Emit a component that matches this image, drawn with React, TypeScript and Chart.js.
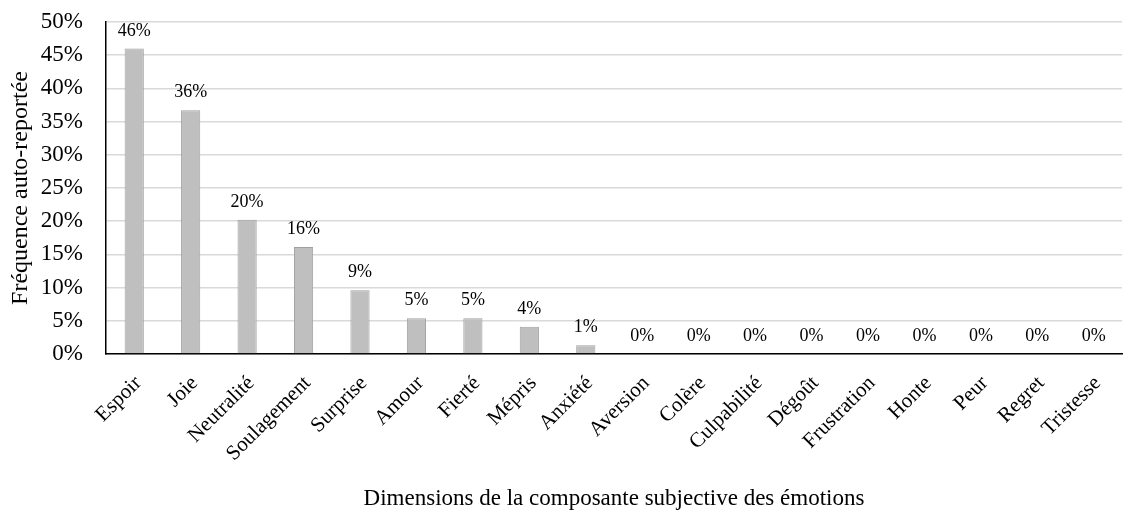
import React, { useEffect, useRef } from "react";
import { Chart, registerables } from "chart.js";

Chart.register(...registerables);

const categories = [
  "Espoir", "Joie", "Neutralité", "Soulagement", "Surprise", "Amour", "Fierté", "Mépris", "Anxiété",
  "Aversion", "Colère", "Culpabilité", "Dégoût", "Frustration", "Honte", "Peur", "Regret", "Tristesse",
];
const values = [46.0, 36.7, 20.2, 16.1, 9.6, 5.4, 5.4, 4.1, 1.3, 0, 0, 0, 0, 0, 0, 0, 0, 0];
const valueLabels = ["46%", "36%", "20%", "16%", "9%", "5%", "5%", "4%", "1%", "0%", "0%", "0%", "0%", "0%", "0%", "0%", "0%", "0%"];
const yTicks = [0, 5, 10, 15, 20, 25, 30, 35, 40, 45, 50];

const FONT = "'Liberation Serif', 'Times New Roman', serif";

const labelPlugin = {
  id: "valueLabels",
  afterDatasetsDraw(chart: any) {
    const ctx = chart.ctx;
    const meta = chart.getDatasetMeta(0);
    ctx.save();
    ctx.font = `18px ${FONT}`;
    ctx.fillStyle = "#000";
    ctx.textAlign = "center";
    ctx.textBaseline = "alphabetic";
    meta.data.forEach((bar: any, i: number) => {
      ctx.fillText(valueLabels[i], bar.x, bar.y - 13);
    });
    ctx.restore();
  },
};

export default function App() {
  const ref = useRef<HTMLCanvasElement>(null);
  useEffect(() => {
    if (!ref.current) return;
    const chart = new Chart(ref.current, {
      type: "bar",
      data: {
        labels: categories,
        datasets: [
          {
            data: values,
            backgroundColor: "#bfbfbf",
            borderColor: "#a0a0a0",
            borderWidth: 1,
            barPercentage: 0.68,
            categoryPercentage: 0.5,
          },
        ],
      },
      options: {
        animation: false,
        responsive: false,
        maintainAspectRatio: false,
        layout: { padding: { top: 22, right: 3, left: 6, bottom: 0 } },
        plugins: { legend: { display: false }, tooltip: { enabled: false } },
        scales: {
          x: {
            grid: { display: false },
            border: { display: true, color: "#000", width: 1.5 },
            afterFit(scale: any) {
              scale.height = 159;
              scale.paddingLeft = 0;
              scale.paddingRight = 0;
            },
            ticks: {
              color: "#000",
              font: { family: FONT, size: 21 },
              maxRotation: 45,
              minRotation: 45,
              autoSkip: false,
              padding: 9,
              labelOffset: 4,
            },
            title: {
              display: true,
              text: "Dimensions de la composante subjective des émotions",
              color: "#000",
              font: { family: FONT, size: 23 },
              padding: { top: 10, bottom: 0 },
            },
          },
          y: {
            min: 0,
            max: 50,
            afterBuildTicks(axis: any) {
              axis.ticks = yTicks.map((v) => ({ value: v }));
            },
            afterFit(scale: any) {
              scale.width = 100;
              scale.paddingTop = 0;
              scale.paddingBottom = 0;
            },
            grid: { color: "#d9d9d9", lineWidth: 1.5, drawTicks: false },
            border: { display: true, color: "#000", width: 1.5 },
            ticks: {
              color: "#000",
              font: { family: FONT, size: 23 },
              padding: 23,
              callback: (v: any) => `${v}%`,
            },
            title: {
              display: true,
              text: "Fréquence auto-reportée",
              color: "#000",
              font: { family: FONT, size: 24 },
              padding: { top: 0, bottom: 6 },
            },
          },
        },
      },
      plugins: [labelPlugin],
    });
    return () => chart.destroy();
  }, []);
  return (
    <div style={{ position: "fixed", left: 0, top: 0, width: 1125, height: 513, background: "#fff" }}>
      <canvas ref={ref} width={1125} height={513} style={{ width: 1125, height: 513 }} />
    </div>
  );
}
